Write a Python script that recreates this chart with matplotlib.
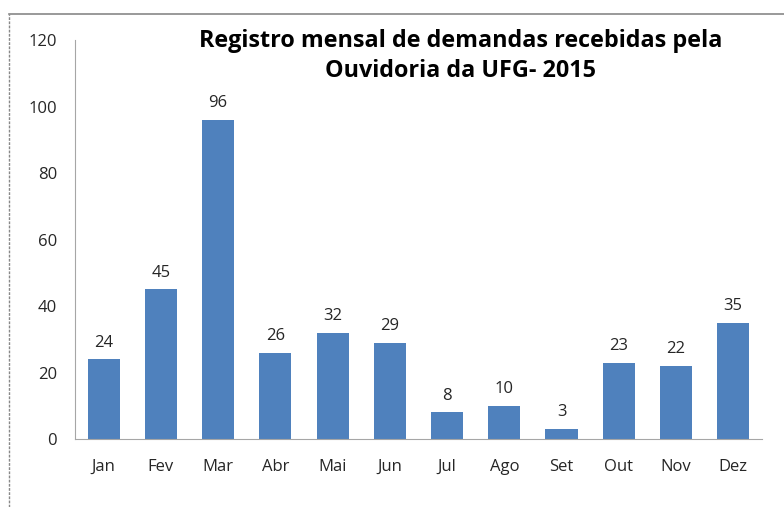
import matplotlib.pyplot as plt
from matplotlib.lines import Line2D

months = ['Jan', 'Fev', 'Mar', 'Abr', 'Mai', 'Jun', 'Jul', 'Ago', 'Set', 'Out', 'Nov', 'Dez']
demandas = [24, 45, 96, 26, 32, 29, 8, 10, 3, 23, 22, 35]
yticks = [0, 20, 40, 60, 80, 100, 120]

plt.rcParams['font.family'] = ['Open Sans', 'DejaVu Sans']

fig = plt.figure(figsize=(7.84, 5.07), dpi=100)
ax = fig.add_axes([0.0957, 0.1341, 0.876, 0.787])

x = range(len(months))
bars = ax.bar(x, demandas, width=0.56, color='#4F81BD')

# value labels above bars
for xi, v in zip(x, demandas):
    ax.text(xi, v + 2.6, str(v), ha='center', va='bottom', fontsize=12, color='#262626')

ax.set_xlim(-0.5, len(months) - 0.5)
ax.set_ylim(0, 120)
ax.set_yticks(yticks)
ax.set_xticks(list(x))
ax.set_xticklabels(months)
ax.tick_params(axis='both', length=0, labelsize=12, colors='#262626')
ax.tick_params(axis='y', pad=13)
ax.tick_params(axis='x', pad=14.5)

for side in ['top', 'right']:
    ax.spines[side].set_visible(False)
for side in ['left', 'bottom']:
    ax.spines[side].set_color('#A6A6A6')

# title
fig.text(0.588, 0.8895, 'Registro mensal de demandas recebidas pela\nOuvidoria da UFG- 2015',
         ha='center', va='center', fontsize=16.8, fontweight='bold', linespacing=1.3)

# outer frame (top and left only)
fig.add_artist(Line2D([9 / 784, 1], [1 - 14 / 507, 1 - 14 / 507], color='#888888', lw=1.2))
fig.add_artist(Line2D([9 / 784, 9 / 784], [0, 1 - 14 / 507], color='#888888', lw=1, ls=(0, (2, 1))))

fig.savefig('out.png', dpi=100)
